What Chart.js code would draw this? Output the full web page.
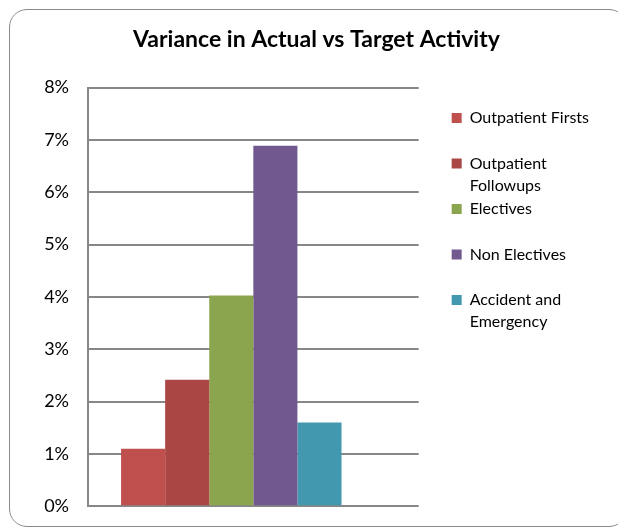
<!DOCTYPE html>
<html lang="en">
<head>
  <meta charset="UTF-8" />
  <title>Variance in Actual vs Target Activity</title>
  <style>
    html, body {
      margin: 0;
      padding: 0;
      background: #fff;
    }
    .wrap {
      position: relative;
      width: 618px;
      height: 528px;
      overflow: hidden;
    }
    .frame {
      position: absolute;
      left: 9px;
      top: 9px;
      width: 616px;
      height: 516px;
      border: 1.5px solid #8a8a8a;
      border-radius: 18px;
      pointer-events: none;
    }
    canvas {
      position: absolute;
      left: 0;
      top: 0;
    }
  </style>
</head>
<body>
  <div class="wrap">
    <canvas id="varianceChart" width="618" height="528"></canvas>
    <div class="frame"></div>
  </div>

  <script src="https://cdn.jsdelivr.net/npm/chart.js"></script>
  <script>
    // Series (one bar each); the sixth slot is an empty series kept by the original sheet
    const seriesNames = ['Outpatient Firsts', 'Outpatient Followups', 'Electives', 'Non Electives', 'Accident and Emergency', ''];
    const legendLines = [
      ['Outpatient Firsts', ''],
      ['Outpatient', 'Followups'],
      ['Electives', ''],
      ['Non Electives', ''],
      ['Accident and', 'Emergency']
    ];
    const variancePct = [1.10, 2.42, 4.03, 6.89, 1.60, null];
    const seriesColors = ['#C0504D', '#AA4644', '#8BA54E', '#71588F', '#4298AF', '#F79646'];
    const yTicks = [0, 1, 2, 3, 4, 5, 6, 7, 8];

    const FONT = 'Lato, "Open Sans", sans-serif';
    const GRID = '#878787';

    const datasets = seriesNames.map((name, i) => ({
      label: name,
      data: [variancePct[i]],
      backgroundColor: seriesColors[i],
      borderWidth: 0,
      barPercentage: 1,
      categoryPercentage: 0.8
    }));

    const config = {
      type: 'bar',
      data: {
        labels: [''],
        datasets: datasets
      },
      options: {
        responsive: false,
        animation: false,
        layout: {
          padding: { left: 34, right: 19, top: 24, bottom: 13 }
        },
        scales: {
          x: {
            display: false
          },
          y: {
            min: yTicks[0],
            max: yTicks[yTicks.length - 1],
            afterFit: function(axis) {
              axis.width = 54;
            },
            ticks: {
              stepSize: 1,
              padding: 19,
              color: '#000',
              // small line height only trims the space reserved below the axis
              font: { family: FONT, size: 18, lineHeight: 0.3 },
              callback: function(value) {
                return value + '%';
              }
            },
            grid: {
              color: GRID,
              lineWidth: 2,
              drawTicks: false
            },
            border: {
              color: GRID,
              width: 2
            }
          },
          // empty strip that keeps the legend away from the plot
          gap: {
            position: 'right',
            display: true,
            afterFit: function(axis) {
              axis.width = 31.5;
            },
            ticks: { display: false },
            grid: { display: false },
            border: { display: false }
          }
        },
        plugins: {
          title: {
            display: true,
            text: 'Variance in Actual vs Target Activity',
            color: '#000',
            font: { family: FONT, size: 23, weight: 'bold', lineHeight: 1.2 },
            padding: { top: 2, bottom: 34 }
          },
          legend: {
            position: 'right',
            align: 'start',
            fullSize: false,
            maxWidth: 200,
            title: {
              display: true,
              text: ' ',
              font: { size: 10, lineHeight: 1 },
              padding: { top: 11, bottom: 0 }
            },
            labels: {
              color: '#000',
              font: { family: FONT, size: 16, lineHeight: '22px' },
              boxWidth: 10,
              boxHeight: 10,
              padding: 1.5,
              generateLabels: function(chart) {
                return legendLines.map((lines, i) => ({
                  text: lines,
                  fillStyle: seriesColors[i],
                  strokeStyle: seriesColors[i],
                  fontColor: '#000',
                  lineWidth: 0,
                  datasetIndex: i
                }));
              }
            }
          },
          tooltip: { enabled: false }
        }
      }
    };

    const varianceChart = new Chart(
      document.getElementById('varianceChart'),
      config
    );
  </script>
</body>
</html>
